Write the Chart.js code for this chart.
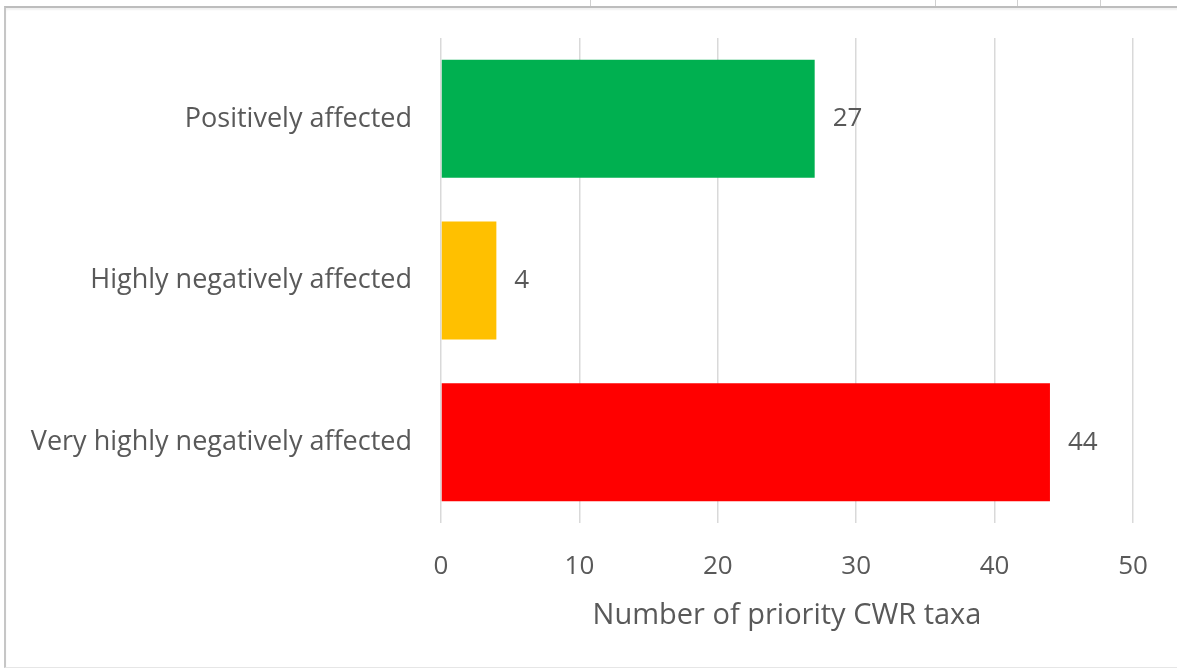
<!DOCTYPE html>
<html>
<head>
<meta charset="utf-8">
<script src="https://cdn.jsdelivr.net/npm/chart.js@4"></script>
<style>
  html, body { margin: 0; padding: 0; background: #fff; }
  body { width: 1177px; height: 669px; position: relative; overflow: hidden; font-family: "Open Sans", sans-serif; }
  .sheet { position: absolute; left: 0; top: 0; width: 1177px; height: 7px; overflow: hidden; background: #fff; }
  .sheet .cell { position: absolute; top: -20px; height: 27px; border-left: 1px solid #d0d0d0; }
  .sheet .txt { position: absolute; top: -17px; left: 0; width: 345px; text-align: center; font-size: 18px; color: #444; white-space: nowrap; }
  .frame { position: absolute; left: 4px; top: 6px; width: 1190px; height: 659px; border-left: 2px solid #c6c6c6; border-top: 2px solid #bdbdbd; border-bottom: 1px solid #e6e6e6; box-shadow: inset 0 2px 2px rgba(0,0,0,0.06); background: #fff; }
  canvas { position: absolute; left: 0; top: 0; }
</style>
</head>
<body>
<div class="sheet">
  <div class="cell" style="left:590px;width:345px;"><div class="txt">Coffea mayombensis</div></div>
  <div class="cell" style="left:935px;width:82px;"></div>
  <div class="cell" style="left:1017px;width:83px;"></div>
  <div class="cell" style="left:1100px;width:77px;"></div>
</div>
<div class="frame"></div>
<canvas id="c" width="1177" height="669"></canvas>
<script>
// Impact categories and the number of priority crop wild relative taxa in each
const categories = ["Positively affected", "Highly negatively affected", "Very highly negatively affected"];
const taxaCounts = [27, 4, 44];
const barColors = ["#00B050", "#FFC000", "#FF0000"];
const axisTitle = "Number of priority CWR taxa";
const xMin = 0, xMax = 50, xStep = 10;

const textColor = "#595959";
const fontFamily = "'Open Sans', sans-serif";

// Writes each bar's value just past its end
const valueLabels = {
  id: "valueLabels",
  afterDatasetsDraw(chart) {
    const ctx = chart.ctx;
    const meta = chart.getDatasetMeta(0);
    ctx.save();
    ctx.font = "26px " + fontFamily;
    ctx.fillStyle = textColor;
    ctx.textAlign = "left";
    ctx.textBaseline = "middle";
    meta.data.forEach((bar, i) => {
      ctx.fillText(String(taxaCounts[i]), bar.x + 18, bar.y);
    });
    ctx.restore();
  }
};

new Chart(document.getElementById("c"), {
  type: "bar",
  data: {
    labels: categories,
    datasets: [{
      data: taxaCounts,
      backgroundColor: barColors,
      borderWidth: 0,
      barPercentage: 0.73,
      categoryPercentage: 1.0
    }]
  },
  options: {
    indexAxis: "y",
    responsive: false,
    animation: false,
    events: [],
    layout: { padding: { left: 0, right: 44, top: 38, bottom: 0 } },
    plugins: { legend: { display: false }, tooltip: { enabled: false } },
    scales: {
      x: {
        min: xMin, max: xMax,
        ticks: { stepSize: xStep, color: textColor, font: { family: fontFamily, size: 26 }, padding: 28 },
        grid: { color: "#d9d9d9", lineWidth: 1.5, drawTicks: false },
        border: { display: false },
        title: { display: true, text: axisTitle, color: textColor, font: { family: fontFamily, size: 29 }, padding: { top: 0, bottom: 36 } },
        afterFit(scale) { scale.height = 669 - 523; }
      },
      y: {
        ticks: { color: textColor, font: { family: fontFamily, size: 27 }, padding: 29 },
        grid: { display: false, drawTicks: false },
        border: { display: false },
        afterFit(scale) {
          scale.width = 441;
          scale.paddingTop = 0;
          scale.paddingBottom = 0;
        }
      }
    }
  },
  plugins: [valueLabels]
});
</script>
</body>
</html>
